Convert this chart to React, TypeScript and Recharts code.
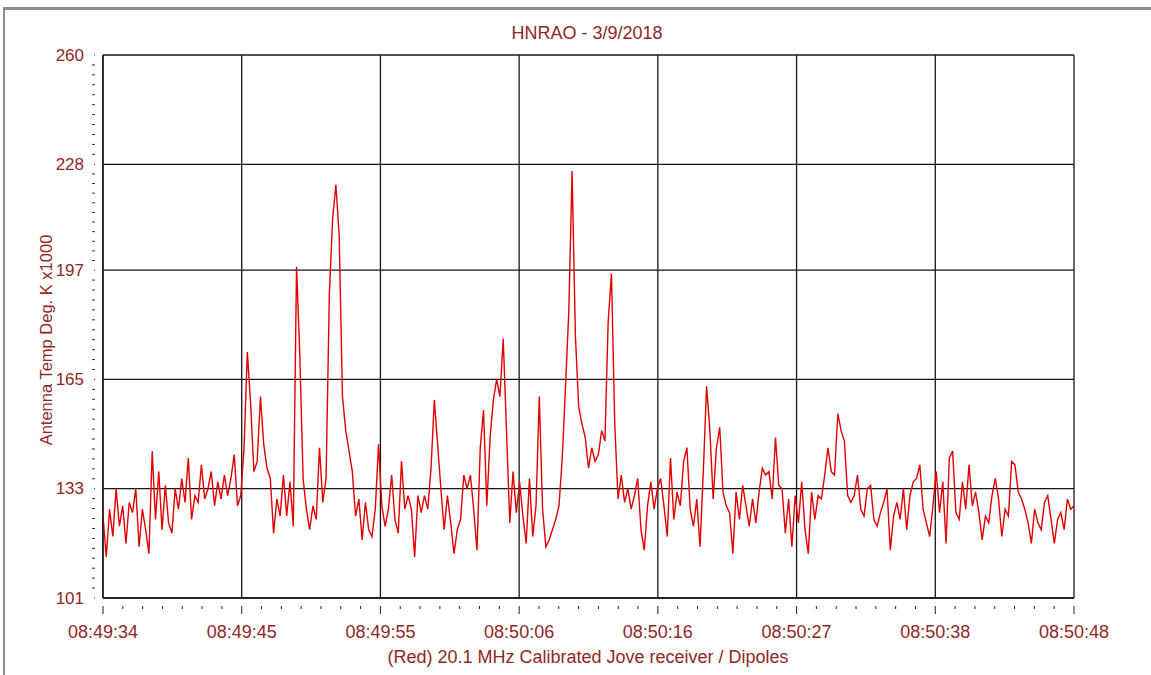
import React from "react";
import { CartesianGrid, Line, LineChart, XAxis, YAxis } from "recharts";

// Jove receiver log, one reading every 0.25 s, antenna temp in K x1000
const SAMPLE_SEC = 0.25;
const SPAN_SEC = 74;

const tempsA = [
  125, 113, 127, 119, 133, 122, 128, 117, 129, 126,
  133, 116, 127, 121, 114, 144, 124, 138, 121, 134,
  123, 120, 133, 127, 136, 129, 142, 124, 131, 129,
  140, 130, 133, 138, 128, 135, 130, 137, 131, 136,
  143, 128, 131,
];
const tempsB = [
  145, 173, 158, 138, 141, 160, 146, 139, 136, 120,
  130, 125, 137, 125, 135, 122, 198, 172, 136, 127,
  121, 128, 124, 145, 129, 136, 190, 212, 222, 207,
  160, 150, 144, 138, 125, 130, 118, 129, 121, 119,
  127, 146,
];
const tempsC = [
  128, 122, 127, 137, 124, 120, 141, 127, 131, 127,
  113, 131, 126, 131, 127, 139, 159, 146, 133, 121,
  131, 123, 114, 121, 124, 137, 133, 137, 127, 115,
  145, 156, 128, 148, 159, 165, 160, 177, 150, 123,
  138, 126, 135,
];
const tempsD = [
  125, 117, 136, 119, 128, 160, 127, 116, 118, 121,
  124, 128, 142, 163, 185, 226, 178, 157, 152, 148,
  139, 145, 141, 143, 150, 147, 182, 196, 152, 130,
  137, 129, 133, 127, 131, 136, 121, 115, 128, 135,
  127, 133,
];
const tempsE = [
  136, 128, 119, 142, 124, 132, 128, 141, 145, 127,
  122, 130, 116, 138, 163, 150, 130, 145, 151, 132,
  128, 126, 114, 132, 124, 134, 128, 122, 130, 123,
  132, 139, 137, 138, 130, 148, 134, 133, 120, 130,
  116, 131,
];
const tempsF = [
  123, 135, 121, 114, 132, 124, 131, 130, 137, 145,
  138, 137, 155, 150, 147, 131, 129, 131, 137, 127,
  125, 133, 134, 124, 122, 126, 129, 133, 115, 125,
  129, 124, 133, 121, 131, 135, 136, 140, 127, 123,
  119, 128, 138,
];
const tempsG = [
  126, 135, 117, 142, 144, 126, 124, 135, 127, 140,
  128, 132, 126, 118, 125, 123, 131, 136, 130, 119,
  127, 125, 141, 140, 132, 130, 127, 123, 117, 127,
  123, 121, 129, 131, 124, 117, 124, 126, 121, 130,
  127, 128,
];

const timeLabels = [
  "08:49:34", "08:49:45", "08:49:55", "08:50:06",
  "08:50:16", "08:50:27", "08:50:38", "08:50:48",
];
const tempLabels = ["101", "133", "165", "197", "228", "260"];
const tempMajors = [101, 133, 165, 197, 228, 260];

const temps = [...tempsA, ...tempsB, ...tempsC, ...tempsD, ...tempsE, ...tempsF, ...tempsG];
const data = temps.map((v, i) => ({ t: i * SAMPLE_SEC, v }));

// major time ticks + 6 minor ticks between each pair
const X_SUB = 7;
const xMajors = timeLabels.map((_, i) => (i * SPAN_SEC) / (timeLabels.length - 1));
const xTicks: number[] = [];
xMajors.forEach((m, i) => {
  if (i === 0) { xTicks.push(m); return; }
  const prev = xMajors[i - 1];
  for (let j = 1; j <= X_SUB; j++) xTicks.push(prev + ((m - prev) * j) / X_SUB);
});

// 10 minor ticks between each labelled temperature
const Y_SUB = 11;
const yTicks: number[] = [];
tempMajors.forEach((m, i) => {
  if (i === 0) { yTicks.push(m); return; }
  const prev = tempMajors[i - 1];
  for (let j = 1; j <= Y_SUB; j++) yTicks.push(prev + ((m - prev) * j) / Y_SUB);
});

const W = 1151;
const H = 675;
const PLOT = { left: 103, right: 1074, top: 55, bottom: 598 };
const TEXT = "#8f2828";
const FONT = "'Liberation Sans', Arial, sans-serif";

function TimeTick(props: any) {
  const { x, index } = props;
  const major = index % X_SUB === 0;
  const y0 = PLOT.bottom + 8;
  return (
    <g>
      <line x1={x} x2={x} y1={y0} y2={y0 + (major ? 8 : 3)} stroke="#222" strokeWidth={1} />
      {major && (
        <text x={x} y={PLOT.bottom + 40} textAnchor="middle" fill={TEXT} fontSize={18} fontFamily={FONT}>
          {timeLabels[index / X_SUB]}
        </text>
      )}
    </g>
  );
}

function TempTick(props: any) {
  const { y, index } = props;
  const major = index % Y_SUB === 0;
  const x0 = PLOT.left - 8;
  return (
    <g>
      {major ? (
        <line x1={x0 - 1} x2={x0} y1={y} y2={y} stroke="#333" strokeWidth={1} />
      ) : (
        <line x1={x0 - 3} x2={x0} y1={y} y2={y} stroke="#333" strokeWidth={1} />
      )}
      {major && (
        <text x={PLOT.left - 19} y={y} textAnchor="end" dominantBaseline="central" fill={TEXT} fontSize={17} fontFamily={FONT}>
          {tempLabels[index / Y_SUB]}
        </text>
      )}
    </g>
  );
}

export default function App() {
  return (
    <div style={{ position: "absolute", left: 0, top: 0, width: W, height: H, background: "#fff" }}>
      {/* window frame */}
      <div
        style={{
          position: "absolute",
          left: 3,
          top: 7,
          right: 0,
          bottom: 0,
          borderTop: "3px solid #8d8d8d",
          borderLeft: "2px solid #8d8d8d",
        }}
      />
      <LineChart
        width={W}
        height={H}
        data={data}
        margin={{ top: PLOT.top, right: W - PLOT.right, bottom: H - PLOT.bottom - 30, left: PLOT.left - 60 }}
        style={{ position: "absolute", left: 0, top: 0 }}
      >
        <CartesianGrid
          horizontalValues={tempMajors}
          verticalValues={xMajors}
          stroke="#161616"
          strokeWidth={1.3}
        />
        <XAxis
          type="number"
          dataKey="t"
          domain={[0, SPAN_SEC]}
          ticks={xTicks}
          interval={0}
          height={30}
          axisLine={{ stroke: "#161616", strokeWidth: 1.3 }}
          tickLine={false}
          tick={(p: any) => <TimeTick {...p} />}
        />
        <YAxis
          type="number"
          domain={[101, 260]}
          allowDataOverflow
          ticks={yTicks}
          interval={0}
          width={60}
          axisLine={{ stroke: "#161616", strokeWidth: 1.3 }}
          tickLine={false}
          tick={(p: any) => <TempTick {...p} />}
        />
        <Line
          type="linear"
          dataKey="v"
          stroke="#e30000"
          strokeWidth={1.4}
          dot={false}
          isAnimationActive={false}
        />
      </LineChart>
      <svg width={W} height={H} style={{ position: "absolute", left: 0, top: 0, pointerEvents: "none" }}>
        <text x={587} y={39} textAnchor="middle" fill={TEXT} fontSize={18} fontFamily={FONT}>
          HNRAO - 3/9/2018
        </text>
        <text
          x={0}
          y={0}
          transform="translate(52 340) rotate(-90)"
          textAnchor="middle"
          fill={TEXT}
          fontSize={16.5}
          fontFamily={FONT}
        >
          Antenna Temp Deg. K x1000
        </text>
        <text x={588} y={663} textAnchor="middle" fill={TEXT} fontSize={18} fontFamily={FONT}>
          (Red) 20.1 MHz Calibrated Jove receiver / Dipoles
        </text>
      </svg>
    </div>
  );
}
